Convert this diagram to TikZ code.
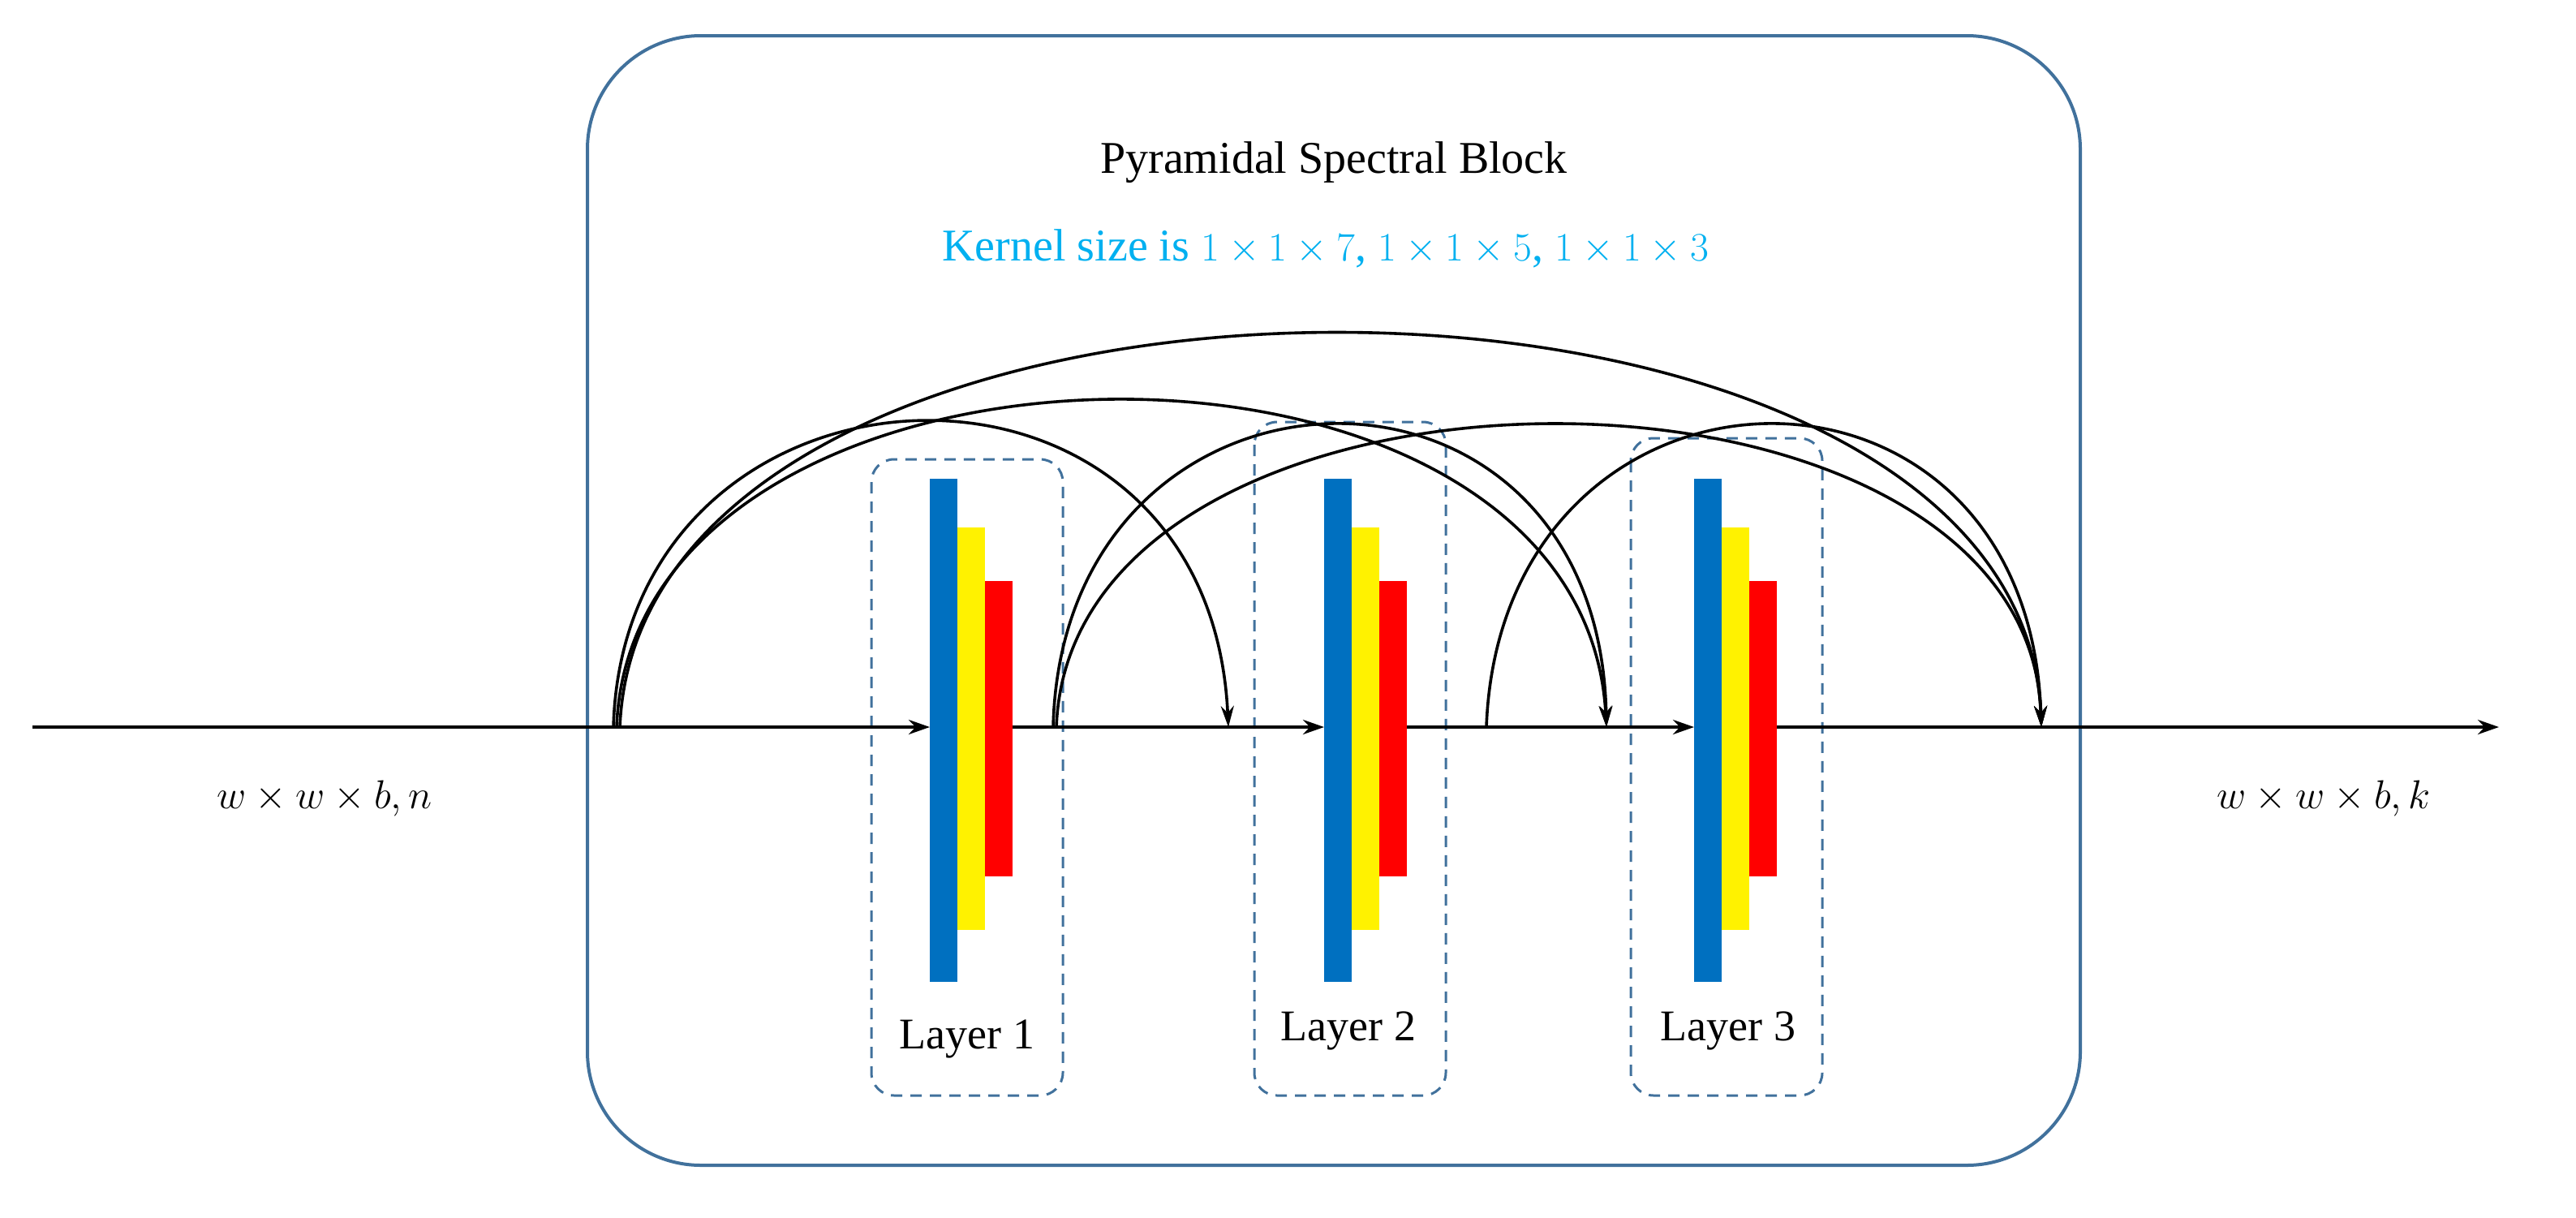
\documentclass[tikz,border=0pt]{standalone}
\usepackage{fontspec}
\setmainfont{Liberation Serif}
\usetikzlibrary{arrows.meta}
\definecolor{boxblue}{RGB}{65,113,156}
\definecolor{barblue}{RGB}{0,112,192}
\definecolor{kcyan}{RGB}{0,176,240}
\begin{document}
\begin{tikzpicture}[x=1pt,y=-1pt,
  conn/.style={line width=2pt,-{Stealth[length=13pt,width=9pt]}},
  arc/.style={line width=1.8pt,-{Stealth[length=13pt,width=8pt]}},
  lay/.style={draw=boxblue,line width=1.5pt,dash pattern=on 7pt off 5pt,rounded corners=14pt},
  lbl/.style={font=\fontsize{27}{30}\selectfont}]
\useasboundingbox (0,0) rectangle (1587.5,750);
\draw[boxblue,line width=2pt,rounded corners=70pt] (362,22) rectangle (1282,718);
\node[font=\fontsize{28}{32}\selectfont] (title) at (822,100) {Pyramidal Spectral Block};
\node[font=\fontsize{28}{32}\selectfont,text=kcyan] (kern) at (817,153) {Kernel size is $1\times1\times7$, $1\times1\times5$, $1\times1\times3$};
\foreach \i/\x/\t in {1/537/283,2/773/260,3/1005/270}{
  \draw[lay] (\x,\t) rectangle (\x+118,675);
}
\foreach \i/\x in {1/573,2/816,3/1044}{
  \fill[barblue] (\x,295) rectangle ++(17,310);
  \fill[yellow] (\x+17,325) rectangle ++(17,248);
  \fill[red] (\x+34,358) rectangle ++(17,182);
  \coordinate (b\i) at (\x,448);
  \coordinate (o\i) at (\x+51,448);
}
\node[lbl] (l1) at (596,640) {Layer 1};
\node[lbl] (l2) at (831,635) {Layer 2};
\node[lbl] (l3) at (1065,635) {Layer 3};
\coordinate (in) at (20,448);
\coordinate (out) at (1540,448);
\coordinate (s1) at (649,448);
\coordinate (s2) at (916,448);
\coordinate (t1) at (757,448);
\coordinate (t2) at (990,448);
\coordinate (t3) at (1258,448);
\draw[conn] (in) -- (b1);
\draw[conn] (o1) -- (b2);
\draw[conn] (o2) -- (b3);
\draw[conn] (o3) -- (out);
\draw[arc] (378,448) .. controls (385,205) and (745,190) .. (t1);
\draw[arc] (380,448) .. controls (390,185) and (975,175) .. (t2);
\draw[arc] (382,448) .. controls (395,125) and (1245,125) .. (t3);
\draw[arc] (s1) .. controls (655,205) and (985,195) .. (t2);
\draw[arc] (651,448) .. controls (660,200) and (1250,200) .. (t3);
\draw[arc] (s2) .. controls (925,205) and (1250,195) .. (t3);
\node[font=\fontsize{28}{32}\selectfont] (inl) at (200,492) {$w\times w\times b, n$};
\node[font=\fontsize{28}{32}\selectfont] (outl) at (1432,492) {$w\times w\times b, k$};
\end{tikzpicture}
\end{document}
